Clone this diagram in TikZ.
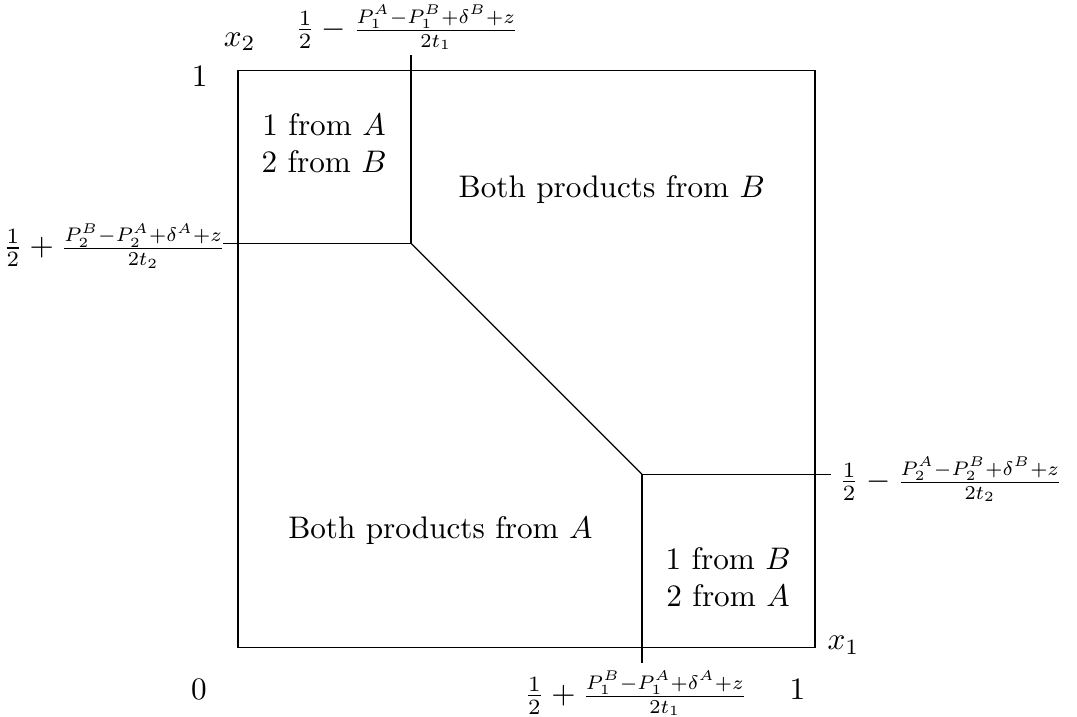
\documentclass[tikz,border=0pt]{standalone}
\usepackage{amsmath}
\usepackage{graphicx}
\usetikzlibrary{positioning}

\newcommand{\cutfrac}[2]{\scalebox{0.9}{$\frac{#1}{#2}$}}

\begin{document}
\begin{tikzpicture}[
                every node/.style={inner sep=1pt, align=center},
                region/.style={font=\normalsize},
                cut/.style={line width=0.4pt}
            ]
            \useasboundingbox (-2.68,-0.78) rectangle (9.45,7.29);

            % Le carre unite
            \coordinate (O) at (0,0);
            \coordinate (C) at (6.5,6.5);
            \draw (O) rectangle (C);

            % Points de coupure
            \coordinate (kinkB) at (1.95,4.55);
            \coordinate (kinkA) at (4.55,1.95);
            \coordinate (topT) at (1.95,6.67);
            \coordinate (leftT) at (-0.17,4.55);
            \coordinate (rightT) at (6.68,1.95);
            \coordinate (botT) at (4.55,-0.18);

            % Frontieres
            \draw[cut] (topT) -- (kinkB) -- (leftT);
            \draw[cut] (kinkB) -- (kinkA);
            \draw[cut] (rightT) -- (kinkA) -- (botT);

            % Axes
            \node (zero) at (-0.44,-0.48) {$0$};
            \node (oneX) at (6.30,-0.48) {$1$};
            \node (oneY) at (-0.43,6.43) {$1$};
            \node (xOne) at (6.82,0.02) {$x_1$};
            \node (xTwo) at (0.02,6.82) {$x_2$};

            % Seuils
            \node (topLab) at (1.9,6.98) {$\frac12-\cutfrac{P_1^A-P_1^B+\delta^B+z}{2t_1}$};
            \node[anchor=east] (leftLab) at (-0.1,4.52) {$\frac12+\cutfrac{P_2^B-P_2^A+\delta^A+z}{2t_2}$};
            \node[anchor=west] (rightLab) at (6.73,1.89) {$\frac12-\cutfrac{P_2^A-P_2^B+\delta^B+z}{2t_2}$};
            \node (botLab) at (4.48,-0.52) {$\frac12+\cutfrac{P_1^B-P_1^A+\delta^A+z}{2t_1}$};

            % Regions
            \node[region] (oneAtwoB) at (0.97,5.68) {1 from $A$\\2 from $B$};
            \node[region] (bothB) at (4.21,5.15) {Both products from $B$};
            \node[region] (bothA) at (2.28,1.31) {Both products from $A$};
            \node[region] (oneBtwoA) at (5.52,0.79) {1 from $B$\\2 from $A$};
        \end{tikzpicture}
\end{document}
